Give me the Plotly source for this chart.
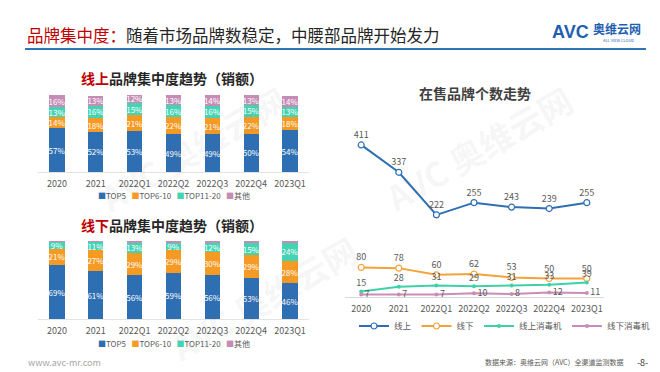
import plotly.graph_objects as go

W, H = 660, 372

periods = ["2020", "2021", "2022Q1", "2022Q2", "2022Q3", "2022Q4", "2023Q1"]
bar_series = ["TOP5", "TOP6-10", "TOP11-20", "其他"]
online_top5 = [57, 52, 53, 49, 49, 50, 54]
online_top6_10 = [14, 18, 21, 22, 21, 22, 18]
online_top11_20 = [13, 16, 15, 16, 16, 15, 13]
online_other = [16, 13, 12, 13, 14, 13, 14]
offline_top5 = [69, 61, 56, 59, 56, 53, 46]
offline_top6_10 = [21, 27, 29, 29, 30, 29, 28]
offline_top11_20 = [9, 11, 13, 9, 12, 15, 24]
offline_other = [1, 1, 2, 3, 2, 3, 2]

line_series = ["线上", "线下", "线上消毒机", "线下消毒机"]
brands_online = [411, 337, 222, 255, 243, 239, 255]
brands_offline = [80, 78, 60, 62, 53, 50, 50]
brands_online_disinf = [15, 28, 31, 29, 31, 33, 39]
brands_offline_disinf = [7, 7, 7, 10, 8, 12, 11]

FONT = "Noto Sans CJK SC, Noto Sans, sans-serif"
C_BLUE = "#2E6EB3"
C_ORANGE = "#F59A23"
C_TEAL = "#46D3B3"
C_PINK = "#C58CB5"
L_BLUE = "#2E6EB3"
L_ORANGE = "#F2A33A"
L_TEAL = "#3ED1A8"
L_PINK = "#C98DB8"
GRAY = "#595959"


def px(x):
    return x / W


def py(y):
    return 1 - y / H


fig = go.Figure()

bar_colors = [C_BLUE, C_ORANGE, C_TEAL, C_PINK]
online = [online_top5, online_top6_10, online_top11_20, online_other]
offline = [offline_top5, offline_top6_10, offline_top11_20, offline_other]

for name, vals, col in zip(bar_series, online, bar_colors):
    fig.add_trace(go.Bar(
        x=periods, y=vals, name=name, marker=dict(color=col, line=dict(width=0)),
        text=[f"{v}%" for v in vals], textposition="inside", insidetextanchor="middle",
        textangle=0, constraintext="none",
        textfont=dict(color="white", size=8, family=FONT),
        xaxis="x", yaxis="y", showlegend=False, hoverinfo="skip"))

for i, (name, vals, col) in enumerate(zip(bar_series, offline, bar_colors)):
    fig.add_trace(go.Bar(
        x=periods, y=vals, name=name, marker=dict(color=col, line=dict(width=0)),
        text=[f"{v}%" if i < 3 else "" for v in vals], textposition="inside",
        insidetextanchor="middle", textangle=0, constraintext="none",
        textfont=dict(color="white", size=8, family=FONT),
        xaxis="x2", yaxis="y2", showlegend=False, hoverinfo="skip"))

line_vals = [brands_online, brands_offline, brands_online_disinf, brands_offline_disinf]
line_cols = [L_BLUE, L_ORANGE, L_TEAL, L_PINK]
for i, (name, vals, col) in enumerate(zip(line_series, line_vals, line_cols)):
    if i < 2:
        marker = dict(symbol="circle", size=6, color="white", line=dict(color=col, width=1.2))
    else:
        marker = dict(symbol="circle", size=4, color=col)
    fig.add_trace(go.Scatter(
        x=periods, y=vals, name=name, mode="lines+markers+text",
        line=dict(color=col, width=2), marker=marker,
        text=[str(v) for v in vals],
        textposition="middle right" if i == 3 else "top center",
        textfont=dict(color=GRAY, size=9, family=FONT),
        xaxis="x3", yaxis="y3", showlegend=True, legend="legend", cliponaxis=False,
        hoverinfo="skip"))

bar_x_dom = [px(29.6), px(301.4)]
tickfont = dict(size=9, color=GRAY, family=FONT)

fig.update_layout(
    width=W, height=H, margin=dict(l=0, r=0, t=0, b=0),
    paper_bgcolor="white", plot_bgcolor="rgba(0,0,0,0)",
    barmode="stack", bargap=0.61,
    font=dict(family=FONT, color=GRAY),
    xaxis=dict(domain=bar_x_dom, anchor="y", type="category", showgrid=False,
               showline=True, linecolor="#E3E3E3", linewidth=1, ticks="",
               tickfont=tickfont, ticklabelstandoff=3),
    yaxis=dict(domain=[py(164), py(87)], anchor="x", range=[0, 100], visible=False),
    xaxis2=dict(domain=bar_x_dom, anchor="y2", type="category", showgrid=False,
                showline=True, linecolor="#E3E3E3", linewidth=1, ticks="",
                tickfont=tickfont, ticklabelstandoff=3),
    yaxis2=dict(domain=[py(311), py(233)], anchor="x2", range=[0, 100], visible=False),
    xaxis3=dict(domain=[px(336.5), px(595.5)], anchor="y3", type="category", showgrid=False,
                showline=True, linecolor="#D9D9D9", linewidth=1, ticks="",
                tickfont=tickfont, ticklabelstandoff=3),
    yaxis3=dict(domain=[py(289), py(104)], anchor="x3", range=[0, 500], visible=False),
    legend=dict(orientation="h", x=px(346), y=py(318), xanchor="left", yanchor="middle",
                font=dict(size=8.5, color=GRAY, family=FONT), itemwidth=30,
                traceorder="normal", bgcolor="rgba(0,0,0,0)", borderwidth=0),
)

ann = []


def add_text(x, y, text, size, color, xanchor="center", yanchor="middle", angle=0, family=FONT):
    ann.append(dict(x=px(x), y=py(y), xref="paper", yref="paper", xanchor=xanchor,
                    yanchor=yanchor, showarrow=False, text=text, textangle=angle,
                    font=dict(size=size, color=color, family=family)))


# watermarks
for (wx, wy) in [(185, 140), (255, 290), (470, 140)]:
    add_text(wx, wy, "<b>AVC 奥维云网</b>", 34, "rgba(120,120,120,0.07)", angle=-30)
# header
add_text(17, 27, "<span style='color:#C00000'>品牌集中度：</span>随着市场品牌数稳定，中腰部品牌开始发力",
         16.5, "#262626", xanchor="left")
# logo
add_text(562, 24, "<b>AVC</b>", 18, "#1F5FAF", family="Liberation Sans, Arial, sans-serif")
add_text(609, 21, "<b>奥维云网</b>", 12, "#1F5FAF")
add_text(610, 32, "ALL VIEW CLOUD", 4, "#1F5FAF")
# chart titles
add_text(164, 70, "<b><span style='color:#C00000'>线上</span>品牌集中度趋势（销额）</b>", 14, "#262626")
add_text(164, 217, "<b><span style='color:#C00000'>线下</span>品牌集中度趋势（销额）</b>", 14, "#262626")
add_text(467, 85, "<b>在售品牌个数走势</b>", 14, "#404040")
# bar legends
leg_txt = "   ".join(f"<span style='color:{c}'>■</span>{n}" for n, c in zip(bar_series, bar_colors))
for ly in (187, 335):
    add_text(166, ly, leg_txt, 8, GRAY)
# footer
add_text(18, 354, "www.avc-mr.com", 9, "#A6A6A6", xanchor="left")
add_text(618, 354, "数据来源：奥维云网（AVC）全渠道监测数据", 7, GRAY, xanchor="right")
add_text(634, 354, "-8-", 9, "#404040")

fig.update_layout(annotations=ann)
fig.add_shape(type="line", xref="paper", yref="paper", x0=px(17), x1=px(638), y0=py(41), y1=py(41),
              line=dict(color="#2E75B6", width=2))

fig.write_html("out.html")
